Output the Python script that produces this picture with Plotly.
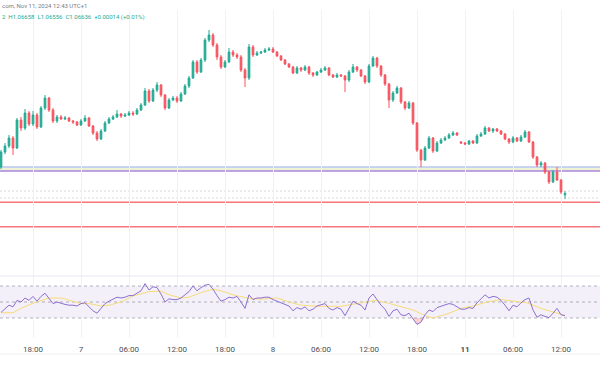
import plotly.graph_objects as go

# ---------------- data (EUR/USD, 30-minute candles, Nov 6 14:00 -> Nov 11 12:30, UTC+1) ----------------
open_ = [1.0690, 1.0705, 1.0711, 1.0719, 1.0709, 1.0737, 1.0729, 1.0744, 1.0733, 1.0742,
         1.0730, 1.0749, 1.0759, 1.0747, 1.0736, 1.0740, 1.0738, 1.0739, 1.0736, 1.0735,
         1.0732, 1.0736, 1.0739, 1.0731, 1.0724, 1.0718, 1.0726, 1.0734, 1.0738, 1.0740,
         1.0743, 1.0741, 1.0742, 1.0744, 1.0743, 1.0747, 1.0752, 1.0766, 1.0756, 1.0767,
         1.0772, 1.0762, 1.0749, 1.0757, 1.0759, 1.0756, 1.0763, 1.0771, 1.0779, 1.0795,
         1.0785, 1.0797, 1.0817, 1.0822, 1.0812, 1.0800, 1.0790, 1.0795, 1.0805, 1.0802,
         1.0800, 1.0787, 1.0779, 1.0810, 1.0802, 1.0804, 1.0805, 1.0807, 1.0808, 1.0805,
         1.0801, 1.0797, 1.0793, 1.0790, 1.0784, 1.0789, 1.0787, 1.0790, 1.0784, 1.0782,
         1.0785, 1.0787, 1.0789, 1.0782, 1.0780, 1.0782, 1.0781, 1.0777, 1.0785, 1.0790,
         1.0787, 1.0781, 1.0775, 1.0791, 1.0799, 1.0791, 1.0782, 1.0773, 1.0757, 1.0764,
         1.0769, 1.0755, 1.0749, 1.0754, 1.0734, 1.0707, 1.0697, 1.0709, 1.0719, 1.0706,
         1.0714, 1.0717, 1.0719, 1.0722, 1.0724, 1.0715, 1.0714, 1.0713, 1.0716, 1.0714,
         1.0721, 1.0723, 1.0729, 1.0726, 1.0728, 1.0726, 1.0723, 1.0718, 1.0715, 1.0719,
         1.0716, 1.0720, 1.0725, 1.0715, 1.0700, 1.0692, 1.0694, 1.0685, 1.0675, 1.0685,
         1.0677, 1.06622]
high = [1.0707, 1.0714, 1.0722, 1.0721, 1.0739, 1.0740, 1.0748, 1.0746, 1.0746, 1.0744,
        1.0751, 1.0762, 1.0760, 1.0749, 1.0742, 1.0742, 1.0741, 1.0740, 1.0737, 1.0736,
        1.0738, 1.0742, 1.0740, 1.0732, 1.0726, 1.0728, 1.0736, 1.0740, 1.0742, 1.0747,
        1.0744, 1.0744, 1.0746, 1.0746, 1.0749, 1.0754, 1.0769, 1.0768, 1.0769, 1.0775,
        1.0773, 1.0763, 1.0759, 1.0761, 1.0761, 1.0765, 1.0773, 1.0781, 1.0797, 1.0797,
        1.0799, 1.0819, 1.0827, 1.0824, 1.0814, 1.0802, 1.0797, 1.0809, 1.0807, 1.0804,
        1.0802, 1.0789, 1.0813, 1.0812, 1.0806, 1.0806, 1.0809, 1.0810, 1.0810, 1.0806,
        1.0802, 1.0798, 1.0794, 1.0791, 1.0791, 1.0790, 1.0792, 1.0791, 1.0785, 1.0786,
        1.0789, 1.0791, 1.0790, 1.0783, 1.0784, 1.0783, 1.0782, 1.0787, 1.0793, 1.0791,
        1.0788, 1.0782, 1.0793, 1.0801, 1.0800, 1.0792, 1.0783, 1.0774, 1.0766, 1.0771,
        1.0770, 1.0756, 1.0756, 1.0755, 1.0735, 1.0708, 1.0711, 1.0721, 1.0720, 1.0716,
        1.0719, 1.0721, 1.0724, 1.0726, 1.0725, 1.0716, 1.0715, 1.0717, 1.0717, 1.0723,
        1.0725, 1.0731, 1.0730, 1.0729, 1.0729, 1.0727, 1.0724, 1.0719, 1.0721, 1.0720,
        1.0722, 1.0727, 1.0726, 1.0716, 1.0701, 1.0696, 1.0695, 1.0686, 1.0687, 1.0690,
        1.0678, 1.06658]
low = [1.0688, 1.0703, 1.0709, 1.0702, 1.0708, 1.0726, 1.0727, 1.0731, 1.0731, 1.0728,
       1.0729, 1.0747, 1.0745, 1.0734, 1.0734, 1.0737, 1.0737, 1.0735, 1.0733, 1.0731,
       1.0731, 1.0735, 1.0730, 1.0722, 1.0716, 1.0717, 1.0725, 1.0733, 1.0737, 1.0739,
       1.0739, 1.0740, 1.0741, 1.0741, 1.0742, 1.0746, 1.0751, 1.0754, 1.0755, 1.0765,
       1.0760, 1.0747, 1.0748, 1.0756, 1.0754, 1.0755, 1.0762, 1.0769, 1.0778, 1.0783,
       1.0784, 1.0795, 1.0815, 1.0810, 1.0797, 1.0788, 1.0789, 1.0794, 1.0800, 1.0798,
       1.0785, 1.0770, 1.0777, 1.0800, 1.0801, 1.0803, 1.0804, 1.0806, 1.0804, 1.0800,
       1.0796, 1.0792, 1.0789, 1.0783, 1.0783, 1.0785, 1.0786, 1.0782, 1.0780, 1.0781,
       1.0784, 1.0786, 1.0781, 1.0779, 1.0779, 1.0780, 1.0765, 1.0775, 1.0784, 1.0785,
       1.0780, 1.0773, 1.0774, 1.0790, 1.0789, 1.0780, 1.0771, 1.0749, 1.0755, 1.0763,
       1.0753, 1.0747, 1.0748, 1.0732, 1.0705, 1.0690, 1.0696, 1.0708, 1.0704, 1.0705,
       1.0713, 1.0716, 1.0718, 1.0721, 1.0721, 1.0713, 1.0712, 1.0712, 1.0713, 1.0713,
       1.0720, 1.0722, 1.0725, 1.0724, 1.0725, 1.0722, 1.0717, 1.0713, 1.0714, 1.0715,
       1.0715, 1.0719, 1.0714, 1.0698, 1.0690, 1.0690, 1.0683, 1.0673, 1.0674, 1.0676,
       1.0663, 1.06580]
close = [1.0705, 1.0711, 1.0719, 1.0709, 1.0737, 1.0729, 1.0744, 1.0733, 1.0742, 1.0730,
         1.0749, 1.0759, 1.0747, 1.0736, 1.0740, 1.0738, 1.0739, 1.0736, 1.0735, 1.0732,
         1.0736, 1.0739, 1.0731, 1.0724, 1.0718, 1.0726, 1.0734, 1.0738, 1.0740, 1.0743,
         1.0741, 1.0742, 1.0744, 1.0743, 1.0747, 1.0752, 1.0766, 1.0756, 1.0767, 1.0772,
         1.0762, 1.0749, 1.0757, 1.0759, 1.0756, 1.0763, 1.0771, 1.0779, 1.0795, 1.0785,
         1.0797, 1.0817, 1.0822, 1.0812, 1.0800, 1.0790, 1.0795, 1.0805, 1.0802, 1.0800,
         1.0787, 1.0779, 1.0810, 1.0802, 1.0804, 1.0805, 1.0807, 1.0808, 1.0805, 1.0801,
         1.0797, 1.0793, 1.0790, 1.0784, 1.0789, 1.0787, 1.0790, 1.0784, 1.0782, 1.0785,
         1.0787, 1.0789, 1.0782, 1.0780, 1.0782, 1.0781, 1.0777, 1.0785, 1.0790, 1.0787,
         1.0781, 1.0775, 1.0791, 1.0799, 1.0791, 1.0782, 1.0773, 1.0757, 1.0764, 1.0769,
         1.0755, 1.0749, 1.0754, 1.0734, 1.0707, 1.0697, 1.0709, 1.0719, 1.0706, 1.0714,
         1.0717, 1.0719, 1.0722, 1.0724, 1.0722, 1.0714, 1.0713, 1.0716, 1.0714, 1.0721,
         1.0723, 1.0729, 1.0726, 1.0728, 1.0726, 1.0723, 1.0718, 1.0715, 1.0719, 1.0716,
         1.0720, 1.0725, 1.0715, 1.0700, 1.0692, 1.0694, 1.0685, 1.0675, 1.0685, 1.0677,
         1.0665, 1.06636]

rsi = [37, 42, 46, 44, 52, 50, 55, 52, 57, 51,
       57, 61, 55, 48, 50, 48, 47, 46, 46, 45,
       48, 49, 44, 39, 36, 42, 48, 51, 53, 56,
       55, 56, 58, 58, 61, 64, 73, 65, 69, 68,
       60, 50, 54, 53, 53, 55, 59, 63, 70, 64,
       68, 71, 72, 66, 58, 51, 53, 56, 55, 57,
       50, 42, 59, 53, 55, 55, 56, 56, 53, 51,
       50, 48, 45, 39, 43, 41, 44, 39, 41, 45,
       47, 48, 42, 40, 43, 41, 33, 42, 51, 48,
       46, 40, 55, 60, 53, 46, 41, 32, 39, 41,
       34, 33, 36, 29, 22, 25, 34, 40, 38, 43,
       45, 46, 48, 47, 44, 41, 41, 43, 42, 49,
       54, 59, 55, 57, 56, 52, 46, 39, 46, 44,
       49, 53, 55, 40, 31, 34, 32, 30.5, 36, 42,
       34, 33]

rsi_ma_pos = [0, 3, 5, 8, 12, 15, 16.5, 20, 22, 25, 27, 30, 33, 37, 40, 42, 45, 47, 50, 53,
              55, 58, 61.5, 65, 69, 72, 75, 80, 85, 90, 93.5, 96.5, 100, 103, 106.5, 108,
              111.5, 115, 118, 121.5, 125, 127, 131.5, 135, 138, 141]
rsi_ma = [36.6, 36.6, 42, 48.6, 55, 55, 53, 48, 48, 45, 46, 50, 57.5, 63, 63.5, 59, 55, 56, 61.7, 66,
          64, 59, 55, 53.5, 55, 50, 46, 44.6, 44.6, 49, 52, 49, 44, 40, 32, 30,
          35, 42, 45, 50, 53, 52, 49, 42, 37.5, 33]

tick_pos = [8, 20, 32, 44, 56, 68, 80, 92, 104, 116, 128, 140]
tick_text = ["18:00", "7", "06:00", "12:00", "18:00", "8", "06:00", "12:00", "18:00", "<b>11</b>", "06:00", "12:00"]

levels_solid = [1.0690, 1.0686, 1.06547, 1.06303]
level_colors = ["#b8c7f2", "#ab86d9", "#f6767c", "#f6767c"]
levels_dotted = [1.0666, 1.0659]
zone = [1.0686, 1.0690]

header_1 = "com, Nov 11, 2024 12:43 UTC+1"
header_2 = "2  H1.06658  L1.06556  C1.06636  +0.00014 (+0.01%)"

# ---------------- figure ----------------
GREEN = "#22ab94"
RED = "#f7525f"
idx = list(range(len(close)))

W, H = 600, 370
TOP, BOT = 10, 338          # plot area in figure pixels
SPLIT = 276                 # pane separator
main_bottom = (BOT - SPLIT) / (BOT - TOP)

fig = go.Figure()

fig.add_trace(go.Candlestick(
    x=idx, open=open_, high=high, low=low, close=close,
    xaxis="x", yaxis="y",
    increasing=dict(line=dict(color=GREEN, width=1), fillcolor=GREEN),
    decreasing=dict(line=dict(color=RED, width=1), fillcolor=RED),
    whiskerwidth=0, hoverinfo="skip",
))

# oversold fill (RSI below 30)
os_x = [i for i in idx if 102 <= i <= 106]
fig.add_trace(go.Scatter(x=os_x, y=[30] * len(os_x), xaxis="x2", yaxis="y2",
                         mode="lines", line=dict(width=0), hoverinfo="skip"))
fig.add_trace(go.Scatter(x=os_x, y=[min(rsi[i], 30) for i in os_x], xaxis="x2", yaxis="y2",
                         mode="lines", line=dict(width=0), fill="tonexty",
                         fillcolor="rgba(242,54,69,0.22)", hoverinfo="skip"))

fig.add_trace(go.Scatter(x=rsi_ma_pos, y=rsi_ma, xaxis="x2", yaxis="y2", mode="lines",
                         line=dict(color="#f8dc7a", width=1), hoverinfo="skip"))
fig.add_trace(go.Scatter(x=idx, y=rsi, xaxis="x2", yaxis="y2", mode="lines",
                         line=dict(color="#8f6fd0", width=1), hoverinfo="skip"))

shapes = []
# zone between blue and purple level
shapes.append(dict(type="rect", xref="paper", x0=0, x1=1, yref="y", y0=zone[0], y1=zone[1],
                   fillcolor="#eef3d6", line=dict(width=0), layer="below"))
for lv, col in zip(levels_solid, level_colors):
    shapes.append(dict(type="line", xref="paper", x0=0, x1=1, yref="y", y0=lv, y1=lv,
                       line=dict(color=col, width=1.5), layer="below"))
for lv in levels_dotted:
    shapes.append(dict(type="line", xref="paper", x0=0, x1=1, yref="y", y0=lv, y1=lv,
                       line=dict(color="#d3dbe0", width=1, dash="2px,2px"), layer="below"))
# RSI band and guides
shapes.append(dict(type="rect", xref="paper", x0=0, x1=1, yref="y2", y0=30, y1=70,
                   fillcolor="rgba(126,87,194,0.09)", line=dict(width=0), layer="below"))
for lv in (70, 50, 30):
    shapes.append(dict(type="line", xref="paper", x0=0, x1=1, yref="y2", y0=lv, y1=lv,
                       line=dict(color="rgba(120,123,134,0.55)", width=1, dash="3px,3px"), layer="below"))
# pane separator and bottom border
shapes.append(dict(type="line", xref="paper", x0=0, x1=1, yref="paper", y0=main_bottom, y1=main_bottom,
                   line=dict(color="#e6e8ee", width=1)))
yb = (BOT - 354) / (BOT - TOP)
shapes.append(dict(type="line", xref="paper", x0=0, x1=1, yref="paper", y0=yb, y1=yb,
                   line=dict(color="#eef0f3", width=1)))

annotations = [
    dict(text=header_1, xref="paper", yref="paper", x=0, y=(BOT - 6) / (BOT - TOP),
         xanchor="left", yanchor="middle", showarrow=False,
         font=dict(size=6, color="#787b86")),
    dict(text=header_2, xref="paper", yref="paper", x=0, y=(BOT - 17) / (BOT - TOP),
         xanchor="left", yanchor="middle", showarrow=False,
         font=dict(size=6, color=GREEN)),
]

xr = [-0.25, 149.75]
fig.update_layout(
    width=W, height=H,
    margin=dict(l=0, r=0, t=TOP, b=H - BOT, pad=0),
    paper_bgcolor="white", plot_bgcolor="white",
    showlegend=False,
    font=dict(family="Roboto, Arial, sans-serif", size=8, color="#4a4d57"),
    boxgap=0.4,
    xaxis=dict(domain=[0, 1], anchor="y", range=xr, tickvals=tick_pos, showticklabels=False,
               showgrid=True, gridcolor="#f0f1f4", gridwidth=1, zeroline=False,
               showline=False, ticks="", rangeslider=dict(visible=False)),
    xaxis2=dict(domain=[0, 1], anchor="y2", range=xr, matches="x", tickvals=tick_pos,
                ticktext=tick_text, showticklabels=True, ticks="", ticklabelstandoff=5,
                showgrid=True, gridcolor="#f0f1f4", gridwidth=1, zeroline=False, showline=False,
                tickfont=dict(size=8, color="#4a4d57")),
    yaxis=dict(domain=[main_bottom, 1], anchor="x", range=[1.0581, 1.0847],
               showgrid=False, showticklabels=False, zeroline=False, ticks=""),
    yaxis2=dict(domain=[0, main_bottom], anchor="x2", range=[5, 82.5],
                showgrid=False, showticklabels=False, zeroline=False, ticks=""),
    shapes=shapes,
    annotations=annotations,
)

fig.write_html("out.html", config={"displayModeBar": False},
               post_script="document.body.style.margin='0';document.body.style.overflow='hidden';")
